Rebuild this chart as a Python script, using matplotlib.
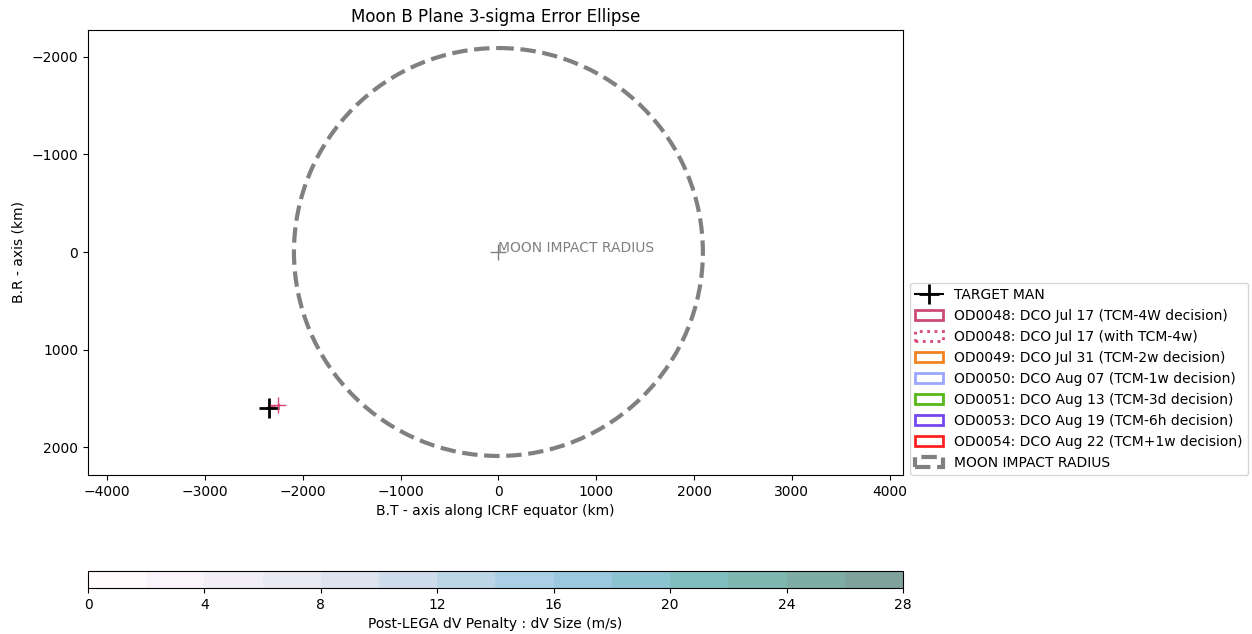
import matplotlib
matplotlib.use("Agg")
import matplotlib.pyplot as plt
import matplotlib.colors as mcolors
from matplotlib.patches import Ellipse, Circle
import numpy as np

# B-plane data (km)
target_bt = -2350
target_br = 1600
moon_radius = 2090

od_labels = ['OD0048: DCO Jul 17 (TCM-4W decision)',
             'OD0048: DCO Jul 17 (with TCM-4w)',
             'OD0049: DCO Jul 31 (TCM-2w decision)',
             'OD0050: DCO Aug 07 (TCM-1w decision)',
             'OD0051: DCO Aug 13 (TCM-3d decision)',
             'OD0053: DCO Aug 19 (TCM-6h decision)',
             'OD0054: DCO Aug 22 (TCM+1w decision)']
od_colors = ['#cc4a7a', '#d9457a', '#f0831e', '#9aa6ff', '#55b814', '#7448ee', '#ff2020']
od_styles = ['-', ':', '-', '-', '-', '-', '-']
ell_bt = [-2300, -2250, -2340, -2345, -2348, -2350, -2350]
ell_br = [1590, 1570, 1598, 1600, 1600, 1600, 1600]
ell_w = [20, 15, 12, 10, 8, 6, 4]
ell_h = [10, 8, 6, 5, 4, 3, 2]

dv_levels = np.arange(0, 30, 2)

fig = plt.figure(figsize=(12.52, 6.34), dpi=100)
ax = fig.add_axes([0.0703, 0.2508, 0.6509, 0.7019])

ax.plot(target_bt, target_br, '+-', color='black', markersize=15, mew=2, label='TARGET MAN')

for i in range(len(od_labels)):
    e = Ellipse((ell_bt[i], ell_br[i]), ell_w[i], ell_h[i], fill=False,
                edgecolor=od_colors[i], linestyle=od_styles[i], lw=2, label=od_labels[i])
    ax.add_patch(e)
ax.plot(ell_bt[1], ell_br[1], '+', color=od_colors[1], markersize=12)

moon = Circle((0, 0), moon_radius, fill=False, edgecolor='gray', linestyle='--', lw=3,
              label='MOON IMPACT RADIUS')
ax.add_patch(moon)
ax.plot(0, 0, '+', color='gray', markersize=12)
ax.text(0, 0, 'MOON IMPACT RADIUS', color='gray', fontsize=10)

ax.set_xlim(-4195, 4135)
ax.set_ylim(2285, -2275)
ax.set_xticks(np.arange(-4000, 4001, 1000))
ax.set_yticks(np.arange(-2000, 2001, 1000))
ax.set_xlabel('B.T - axis along ICRF equator (km)')
ax.set_ylabel('B.R - axis (km)')
ax.set_title('Moon B Plane 3-sigma Error Ellipse')
ax.legend(loc='lower left', bbox_to_anchor=(1.0, -0.016), fontsize=10)

# colorbar
cax = fig.add_axes([0.0703, 0.0726, 0.6509, 0.0268])
cmap = plt.get_cmap('PuBuGn', len(dv_levels) - 1)
norm = mcolors.BoundaryNorm(dv_levels, cmap.N)
sm = plt.cm.ScalarMappable(norm=norm, cmap=cmap)
cb = fig.colorbar(sm, cax=cax, orientation='horizontal', alpha=0.5)
cb.set_ticks(np.arange(0, 29, 4))
cb.minorticks_off()
cb.set_label('Post-LEGA dV Penalty : dV Size (m/s)')

fig.savefig('out.png', dpi=100)
